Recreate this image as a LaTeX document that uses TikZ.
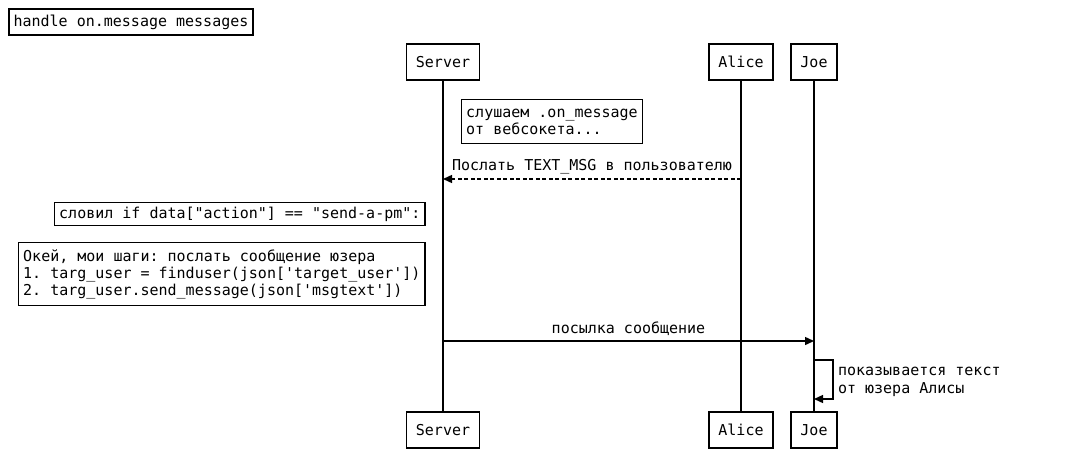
\documentclass[tikz,border=0pt]{standalone}
\usepackage{fontspec}
\setmonofont{DejaVu Sans Mono}
\usepackage{tikz}
\usetikzlibrary{arrows.meta,positioning}

\begin{document}
\begin{tikzpicture}[x=1pt,y=-1pt,font=\ttfamily\fontsize{15}{17}\selectfont]
  \tikzstyle{actor} = [rectangle, draw, line width=1.4pt, minimum height=36, inner xsep=9.5]
  \tikzstyle{note} = [rectangle, draw, line width=1.4pt, align=left, inner xsep=4.5, anchor=north west]
  \tikzstyle{life} = [line width=1.4pt]
  \tikzstyle{arrow} = [line width=1.4pt,-{Triangle[length=9pt,width=8pt]}]
  \tikzstyle{reply} = [arrow, dash pattern=on 4pt off 2.5pt]

  \useasboundingbox (0,0) rectangle (1065,468);

  \node[rectangle, draw, line width=1.4pt, inner xsep=4.5, minimum height=26] (title) at (131,22) {handle on.message messages};

  \node[actor] (server) at (443,62) {Server};
  \node[actor] (alice) at (741,62) {Alice};
  \node[actor] (joe) at (814,62) {Joe};
  \node[actor] (serverb) at (443,430) {Server};
  \node[actor] (aliceb) at (741,430) {Alice};
  \node[actor] (joeb) at (814,430) {Joe};

  \draw[life] (server) -- (serverb);
  \draw[life] (alice) -- (aliceb);
  \draw[life] (joe) -- (joeb);

  \node[note, minimum height=44] (listen) at (461,99) {слушаем .on\_message\\от вебсокета...};

  \coordinate (sendfrom) at (alice |- 0,179);
  \coordinate (sendto) at (server |- 0,179);
  \draw[reply] (sendfrom) -- node[above=1pt] {Послать TEXT\_MSG в пользователю} (sendto);

  \node[note, minimum height=23] (caught) at (54,202) {словил if data["action"] == "send-a-pm":};
  \node[note, minimum height=63] (steps) at (18,242) {Окей, мои шаги: послать сообщение юзера\\1. targ\_user = finduser(json['target\_user'])\\2. targ\_user.send\_message(json['msgtext'])};

  \coordinate (pmfrom) at (server |- 0,341);
  \coordinate (pmto) at (joe |- 0,341);
  \draw[arrow] (pmfrom) -- node[above=1pt] {посылка сообщение} (pmto);

  \coordinate (showfrom) at (joe |- 0,360);
  \coordinate (showto) at (joe |- 0,399);
  \draw[arrow] (showfrom) -- ++(19,0) |- node[pos=0.25, right=1pt, yshift=-2pt, align=left, font=\ttfamily\fontsize{15}{18}\selectfont] {показывается текст\\от юзера Алисы} (showto);
\end{tikzpicture}
\end{document}
